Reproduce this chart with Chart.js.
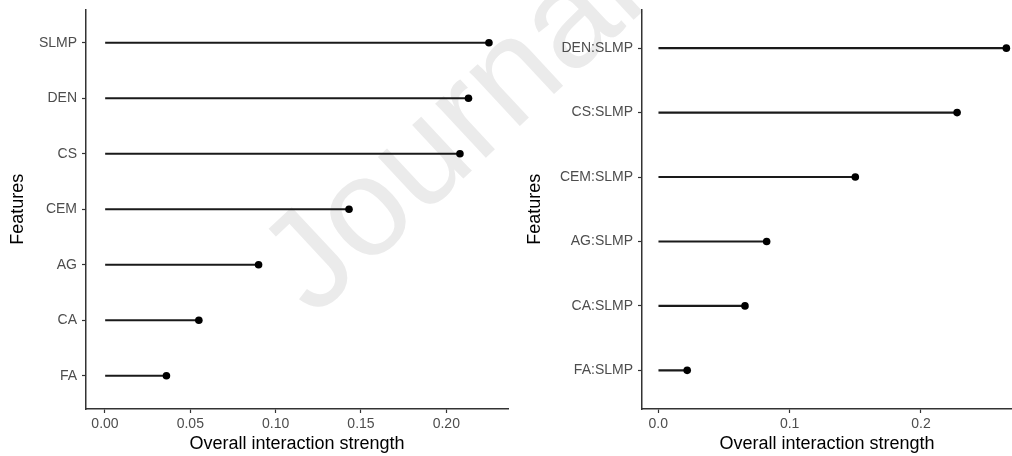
<!DOCTYPE html>
<html lang="en">
<head>
  <meta charset="UTF-8">
  <title>Overall interaction strength</title>
  <script src="https://cdn.jsdelivr.net/npm/chart.js"></script>
  <style>
    body {
      margin: 0;
      padding: 0;
      background: #ffffff;
    }

    #wrap {
      position: relative;
      width: 1012px;
      height: 456px;
      overflow: hidden;
      background: #ffffff;
    }

    /* faint watermark behind both panels */
    .marca {
      position: absolute;
      left: 314px;
      top: 200px;
      font-family: "Liberation Sans", Arial, sans-serif;
      font-size: 140px;
      line-height: 1;
      white-space: nowrap;
      color: #ebebeb;
      transform-origin: 0 118.5px;
      transform: rotate(-43deg);
    }

    .painel {
      position: absolute;
      top: 0;
      height: 456px;
    }
  </style>
</head>
<body>
  <div id="wrap">
    <div class="marca">Journal Pre-proof</div>
    <div class="painel" style="left:0; width:510px;"><canvas id="chartFeatures"></canvas></div>
    <div class="painel" style="left:520px; width:492px;"><canvas id="chartPairs"></canvas></div>
  </div>

  <script>
    // left panel: single features
    const featureNames = ['SLMP', 'DEN', 'CS', 'CEM', 'AG', 'CA', 'FA'];
    const featureStrength = [0.225, 0.213, 0.208, 0.143, 0.090, 0.055, 0.036];
    const featureTicks = [0, 0.05, 0.10, 0.15, 0.20];

    // right panel: two-way interactions with SLMP
    const pairNames = ['DEN:SLMP', 'CS:SLMP', 'CEM:SLMP', 'AG:SLMP', 'CA:SLMP', 'FA:SLMP'];
    const pairStrength = [0.265, 0.2275, 0.150, 0.0825, 0.066, 0.022];
    const pairTicks = [0, 0.1, 0.2];

    Chart.defaults.font.family = '"Liberation Sans", Arial, Helvetica, sans-serif';

    function lollipop(id, nomes, valores, ticksX, casas, xMin, xMax, larguraY, padTituloY, padDireita) {
      const pontos = valores.map((v, i) => ({ x: v, y: i }));
      const ctx = document.getElementById(id).getContext('2d');

      return new Chart(ctx, {
        type: 'bar',
        data: {
          datasets: [
            {
              type: 'bar',
              data: pontos,
              backgroundColor: '#1a1a1a',
              barThickness: 1.5,
              order: 2
            },
            {
              type: 'scatter',
              data: pontos,
              pointRadius: 3.8,
              pointBackgroundColor: '#000000',
              pointBorderWidth: 0,
              order: 1
            }
          ]
        },
        options: {
          indexAxis: 'y',
          animation: false,
          responsive: true,
          maintainAspectRatio: false,
          layout: {
            autoPadding: false,
            padding: { top: 9.5, right: padDireita, bottom: 0, left: 0 }
          },
          plugins: {
            legend: { display: false },
            tooltip: { enabled: false }
          },
          scales: {
            x: {
              type: 'linear',
              position: 'bottom',
              min: xMin,
              max: xMax,
              offset: false,
              afterBuildTicks: s => { s.ticks = ticksX.map(v => ({ value: v })); },
              afterFit: s => {
                s.height = 47;
                s.paddingLeft = 0;
                s.paddingRight = 0;
              },
              ticks: {
                callback: v => Number(v).toFixed(casas),
                color: '#4d4d4d',
                font: { size: 14 },
                padding: 3,
                maxRotation: 0,
                autoSkip: false
              },
              grid: {
                offset: false,
                drawOnChartArea: false,
                tickLength: 4,
                tickColor: '#333333',
                tickWidth: 1.2
              },
              border: { color: '#333333', width: 1.5 },
              title: {
                display: true,
                text: 'Overall interaction strength',
                color: '#000000',
                font: { size: 18 },
                padding: { top: 0, bottom: 0.7 }
              }
            },
            y: {
              type: 'linear',
              min: -0.6,
              max: nomes.length - 0.4,
              reverse: true,
              offset: false,
              afterBuildTicks: s => { s.ticks = nomes.map((_, i) => ({ value: i })); },
              afterFit: s => {
                s.width = larguraY;
                s.paddingTop = 0;
                s.paddingBottom = 0;
              },
              ticks: {
                callback: v => nomes[v],
                color: '#4d4d4d',
                font: { size: 14 },
                padding: 5,
                autoSkip: false
              },
              grid: {
                offset: false,
                drawOnChartArea: false,
                tickLength: 4,
                tickColor: '#333333',
                tickWidth: 1.2
              },
              border: { color: '#333333', width: 1.5 },
              title: {
                display: true,
                text: 'Features',
                color: '#000000',
                font: { size: 18 },
                padding: { top: padTituloY, bottom: 0 }
              }
            }
          }
        }
      });
    }

    lollipop('chartFeatures', featureNames, featureStrength, featureTicks, 2, -0.01113, 0.23616, 86, 7.2, 2);
    lollipop('chartPairs', pairNames, pairStrength, pairTicks, 1, -0.01241, 0.2693, 122, 4.2, 0);
  </script>
</body>
</html>
